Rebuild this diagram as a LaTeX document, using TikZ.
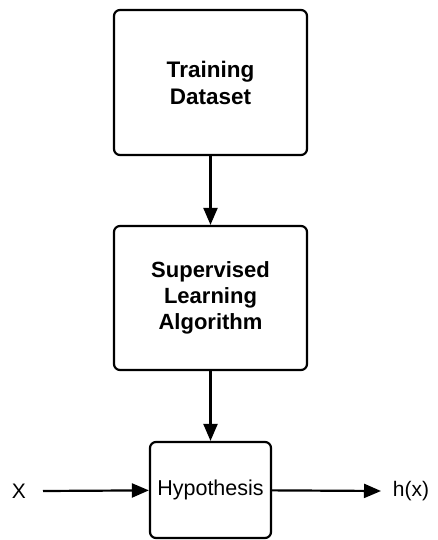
\documentclass[tikz,border=0pt]{standalone}
\usepackage{fontspec}
\setmainfont{Liberation Sans}
\usetikzlibrary{arrows.meta}
\begin{document}
\begin{tikzpicture}[x=1pt,y=-1pt,
  stagebox/.style={draw, line width=2.2pt, rounded corners=6pt, align=center, inner sep=0pt},
  flow/.style={line width=2.2pt, -{Triangle[length=17pt,width=14pt]}},
  lbl/.style={font=\fontsize{21}{26}\selectfont, inner sep=0pt}]
  \useasboundingbox (0,0) rectangle (437,540);
  % processing stages
  \node[stagebox, minimum width=193pt, minimum height=145pt,
        font=\fontsize{22.5}{27}\selectfont\bfseries] (data) at (210.5,82.5) {Training\\Dataset};
  \node[stagebox, minimum width=193pt, minimum height=144pt,
        font=\fontsize{22}{26}\selectfont\bfseries] (algo) at (210.5,298) {Supervised\\Learning\\Algorithm};
  \node[stagebox, minimum width=121pt, minimum height=96pt,
        font=\fontsize{21.5}{26}\selectfont] (hyp) at (210.5,490) {Hypothesis};
  % input and output labels
  \node[lbl] (x) at (19,491) {X};
  \node[lbl] (hx) at (411,491) {h(x)};
  \coordinate (xin) at (43,491);
  \coordinate (hout) at (381,491);
  % connectors
  \draw[flow] (data) -- (algo);
  \draw[flow] (algo) -- (hyp);
  \draw[flow] (xin) -- (hyp);
  \draw[flow] (hyp) -- (hout);
\end{tikzpicture}
\end{document}
